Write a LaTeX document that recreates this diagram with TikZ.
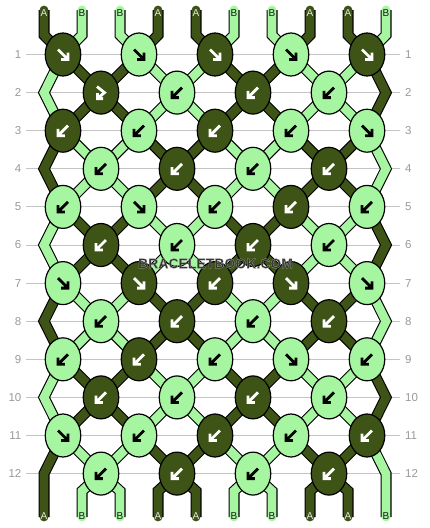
\documentclass[tikz,border=0pt]{standalone}
\usepackage{fontspec}
\setmainfont{Liberation Sans}
\usetikzlibrary{shapes.geometric}
\definecolor{dk}{HTML}{3D5416}
\definecolor{lt}{HTML}{A6F5A0}
\definecolor{gridc}{HTML}{C4C4C4}
\definecolor{numc}{HTML}{9A9A9A}
\definecolor{wm}{HTML}{333333}
\definecolor{labA}{HTML}{E6E6E6}
\definecolor{labB}{HTML}{1A1A1A}
\pgfdeclarelayer{grid}
\pgfdeclarelayer{strands}
\pgfsetlayers{grid,strands,main}
\tikzset{
  knot/.style={ellipse, draw=black, line width=1.2pt, minimum width=35.5pt, minimum height=43pt, inner sep=0pt},
  strand/.style={line width=8.8pt, line join=miter, draw=#1, preaction={draw=black, line width=11pt}},
  endstrand/.style={strand=#1, line cap=round},
  arw/.style={line width=2.8pt, line join=miter},
  rownum/.style={text=numc, font=\fontsize{11.5}{12}\selectfont, inner sep=0pt},
  endlab/.style={font=\fontsize{10}{10}\selectfont, inner sep=0pt},
  gridline/.style={draw=gridc, line width=1pt},
  pics/se/.style={code={\draw[arw] (-5,-5) -- (3.5,3.5) (5,-1.8) -- (5,5) -- (-1.8,5);}},
  pics/sw/.style={code={\draw[arw] (5,-5) -- (-3.5,3.5) (-5,-1.8) -- (-5,5) -- (1.8,5);}},
  pics/fb/.style={code={\draw[arw] (-4,-6) -- (3.5,0) -- (-2.5,5) (-3.5,0.5) -- (-3.5,6) -- (2,6);}},
}
\newcommand\halotext[1]{\special{pdf:literal direct 2 Tr 0.2 w 0.72 0.72 0.72 RG}#1\special{pdf:literal direct 0 Tr}}
\begin{document}
\begin{tikzpicture}[x=1pt,y=-1pt]
\useasboundingbox (0,0) rectangle (430,528);
\begin{pgfonlayer}{grid}
\fill[white] (0,0) rectangle (430,528);
\end{pgfonlayer}
% row labels and grid lines
\foreach \rw in {1,...,12}{
  \pgfmathsetmacro\yy{54.5+38.1*(\rw-1)}
  \node[rownum, anchor=east] (ln\rw) at (21.5,\yy) {\rw};
  \node[rownum, anchor=west] (rn\rw) at (405,\yy) {\rw};
  \begin{pgfonlayer}{grid}
  \draw[gridline] (26,\yy) -- (400,\yy);
  \end{pgfonlayer}
}
% knots
\foreach \rw/\lst in {
 1/{dk/white/se,lt/black/se,dk/white/se,lt/black/se,dk/white/se},
 2/{dk/white/fb,lt/black/sw,dk/white/sw,lt/black/sw},
 3/{dk/white/sw,lt/black/sw,dk/white/sw,lt/black/sw,lt/black/se},
 4/{lt/black/sw,dk/white/sw,lt/black/sw,dk/white/sw},
 5/{lt/black/sw,lt/black/se,lt/black/sw,dk/white/sw,lt/black/sw},
 6/{dk/white/sw,lt/black/sw,dk/white/sw,lt/black/sw},
 7/{lt/black/se,dk/white/se,dk/white/sw,dk/white/se,lt/black/se},
 8/{lt/black/sw,dk/white/sw,lt/black/sw,dk/white/sw},
 9/{lt/black/sw,dk/white/sw,lt/black/sw,lt/black/se,lt/black/sw},
 10/{dk/white/sw,lt/black/sw,dk/white/sw,lt/black/sw},
 11/{lt/black/se,lt/black/sw,dk/white/sw,lt/black/sw,dk/white/sw},
 12/{lt/black/sw,dk/white/sw,lt/black/sw,dk/white/sw}}{
  \foreach \kc/\ac/\ar [count=\kn] in \lst {
    \pgfmathsetmacro\kx{63+76*(\kn-1)+38*(1-mod(\rw,2))}
    \pgfmathsetmacro\ky{54.5+38.1*(\rw-1)}
    \node[knot, fill=\kc] (k\rw-\kn) at (\kx,\ky) {};
    \edef\tmp{\noexpand\pic[\ac] at (k\rw-\kn.center) {\ar};}\tmp
  }
}
\begin{pgfonlayer}{strands}
% top strand ends
\foreach \ps in {1,...,10}{
  \pgfmathsetmacro\sx{44+38*(\ps-1)}
  \pgfmathtruncatemacro\kk{int((\ps+1)/2)}
  \pgfmathtruncatemacro\isA{(mod(\ps,4)<2) ? 1 : 0}
  \ifnum\isA=1 \def\col{dk}\else\def\col{lt}\fi
  \draw[endstrand=\col] (\sx,10) -- (\sx,35) -- (k1-\kk.center);
}
% strands between knots
\foreach \rw in {1,...,11}{
  \foreach \ps in {1,...,10}{
    \pgfmathtruncatemacro\sP{(mod(\rw,4)==0 || mod(\rw,4)==3) ? 1 : 0}
    \pgfmathtruncatemacro\pa{(mod(\ps,4)<2) ? 1 : 0}
    \ifnum\sP=\pa \def\col{dk}\else\def\col{lt}\fi
    \pgfmathtruncatemacro\rodd{mod(\rw,2)}
    \pgfmathtruncatemacro\rn{\rw+1}
    \pgfmathtruncatemacro\rnn{\rw+2}
    \pgfmathsetmacro\yn{54.5+38.1*\rw}
    \ifnum\rodd=1
      \pgfmathtruncatemacro\ka{int((\ps+1)/2)}
      \ifnum\ps=1
        \ifnum\rw<11 \draw[strand=\col] (k\rw-1.center) -- (44,\yn) -- (k\rnn-1.center);
        \else \draw[endstrand=\col] (k\rw-1.center) -- (44,\yn) -- (44,517); \fi
      \else\ifnum\ps=10
        \ifnum\rw<11 \draw[strand=\col] (k\rw-5.center) -- (386,\yn) -- (k\rnn-5.center);
        \else \draw[endstrand=\col] (k\rw-5.center) -- (386,\yn) -- (386,517); \fi
      \else
        \pgfmathtruncatemacro\kb{int(\ps/2)}
        \draw[strand=\col] (k\rw-\ka.center) -- (k\rn-\kb.center);
      \fi\fi
    \else
      \ifnum\ps>1 \ifnum\ps<10
        \pgfmathtruncatemacro\ka{int(\ps/2)}
        \pgfmathtruncatemacro\kb{int((\ps+1)/2)}
        \draw[strand=\col] (k\rw-\ka.center) -- (k\rn-\kb.center);
      \fi\fi
    \fi
  }
}
% bottom strand ends
\foreach \ps in {2,...,9}{
  \pgfmathsetmacro\sx{44+38*(\ps-1)}
  \pgfmathtruncatemacro\kk{int(\ps/2)}
  \pgfmathtruncatemacro\isA{(mod(\ps,4)<2) ? 1 : 0}
  \ifnum\isA=1 \def\col{dk}\else\def\col{lt}\fi
  \draw[endstrand=\col] (k12-\kk.center) -- (\sx,491) -- (\sx,517);
}
\end{pgfonlayer}
% end labels
\foreach \ps/\lab in {1/A,2/B,3/B,4/A,5/A,6/B,7/B,8/A,9/A,10/B}{
  \pgfmathsetmacro\sx{44+38*(\ps-1)}
  \if A\lab \def\lc{labA}\else\def\lc{labB}\fi
  \node[endlab, text=\lc] (t\ps) at (\sx,13) {\lab};
  \node[endlab, text=\lc] (b\ps) at (\sx,516.5) {\lab};
}
\node[font=\bfseries\fontsize{14}{14}\selectfont, text=wm, inner sep=0pt] (wmk) at (215.5,263.5) {\halotext{BRACELETBOOK.COM}};
\end{tikzpicture}
\end{document}
